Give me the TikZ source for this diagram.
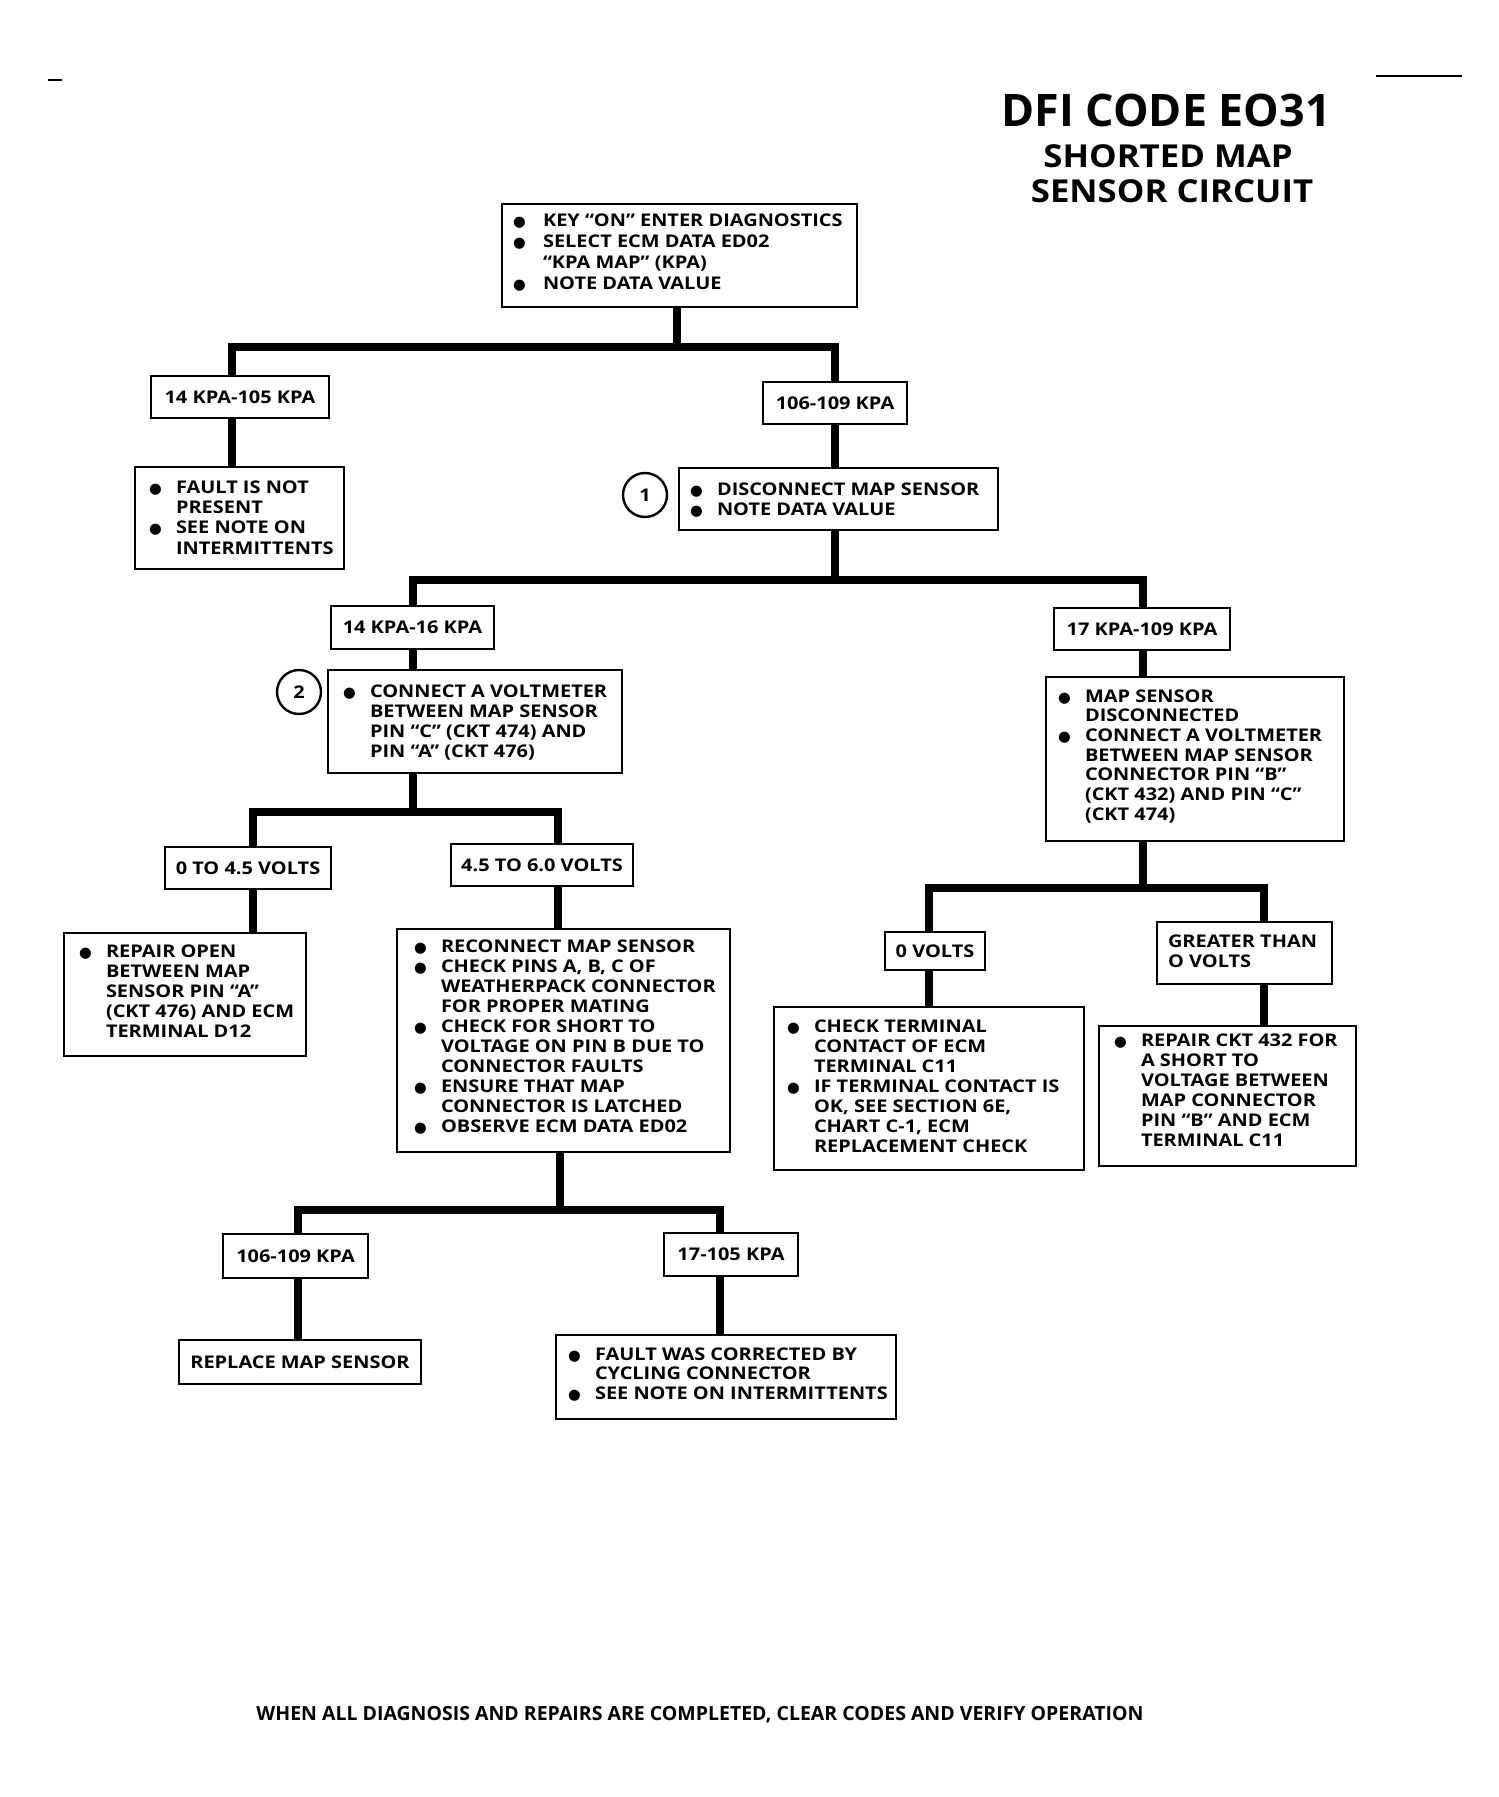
\documentclass[tikz,border=0pt]{standalone}
\usepackage{fontspec}
\usetikzlibrary{calc}
\newfontfamily\bodyf{Open Sans}[FakeStretch=1.14]
\newfontfamily\plainf{Open Sans}
\newfontfamily\subf{Open Sans}[FakeStretch=1.1]
\newfontfamily\symf{DejaVu Sans}
\newlength\bind
\setlength\bind{13.5pt}
\newcommand\bul{{\symf\fontsize{7.3pt}{7pt}\selectfont ●}}
\newcommand\bi{\makebox[\bind][l]{\bul}}
\newcommand\ci{\hspace*{\bind}}
\newcommand\blist[2][10pt]{\parbox[t]{300pt}{\fontsize{8.75pt}{#1}\selectfont\raggedright #2}}
\newcommand\mkbox[6]{%
  \node[boxst, minimum width={(#4-#2)*0.5pt}, minimum height={(#5-#3)*0.5pt}] (#1) at ({(#2+#4)/2},{(#3+#5)/2}) {#6};}
\tikzset{
  boxst/.style={draw, line width=1.4pt, inner sep=0pt, outer sep=0pt,
    font={\bodyf\bfseries\fontsize{8.75pt}{10pt}\selectfont}},
  conn/.style={line width=3.75pt, line join=miter, line cap=butt},
  txt/.style={anchor=base west, inner sep=0pt, outer sep=0pt, font={\bodyf\bfseries}},
  circ/.style={draw, circle, line width=1.2pt, minimum size=22pt, inner sep=0pt,
    font={\bodyf\bfseries\fontsize{8.75pt}{10pt}\selectfont}},
}
\begin{document}
\begin{tikzpicture}[x=0.5pt,y=-0.5pt]
\fill[white] (0,0) rectangle (1498,1797);
\useasboundingbox (0,0) rectangle (1498,1797);

% page marks
\draw[line width=0.8pt] (48,80) -- (62,80);
\draw[line width=0.8pt] (1376,76) -- (1462,76);

% title
\node[anchor=base, inner sep=0pt, font={\plainf\bfseries\fontsize{22.4pt}{26pt}\selectfont}] (title) at (1166,127) {DFI CODE EO31};
\node[anchor=base, inner sep=0pt, font={\subf\bfseries\fontsize{15.8pt}{18pt}\selectfont}] (sub1) at (1168,168) {SHORTED MAP};
\node[anchor=base, inner sep=0pt, font={\subf\bfseries\fontsize{15.8pt}{18pt}\selectfont}] (sub2) at (1172,203) {SENSOR CIRCUIT};

% boxes
\mkbox{A}{502}{204}{857}{307}{}
\mkbox{B}{151}{376}{329}{418}{14 KPA-105 KPA}
\mkbox{C}{763}{382}{907}{424}{106-109 KPA}
\mkbox{D}{135}{467}{344}{569}{}
\mkbox{E}{679}{468}{998}{530}{}
\mkbox{F}{331}{606}{494}{649}{14 KPA-16 KPA}
\mkbox{G}{1054}{608}{1230}{650}{17 KPA-109 KPA}
\mkbox{H}{328}{670}{622}{773}{}
\mkbox{I}{1046}{677}{1344}{841}{}
\mkbox{J}{165}{847}{331}{889}{0 TO 4.5 VOLTS}
\mkbox{K}{451}{844}{633}{886}{4.5 TO 6.0 VOLTS}
\mkbox{L}{64}{933}{306}{1056}{}
\mkbox{M}{397}{929}{730}{1152}{}
\mkbox{N}{885}{932}{985}{970}{0 VOLTS}
\mkbox{O}{1157}{922}{1332}{984}{}
\mkbox{P}{774}{1007}{1084}{1170}{}
\mkbox{Q}{1099}{1026}{1356}{1166}{}
\mkbox{R}{223}{1234}{368}{1278}{106-109 KPA}
\mkbox{S}{664}{1233}{798}{1276}{17-105 KPA}
\mkbox{T}{179}{1340}{421}{1384}{REPLACE MAP SENSOR}
\mkbox{U}{556}{1335}{896}{1419}{}

% box texts
\node[txt] (At) at (513,227) {\setlength\bind{15pt}\blist[10.4pt]{\bi KEY “ON” ENTER DIAGNOSTICS\\ \bi SELECT ECM DATA ED02\\ \ci “KPA MAP” (KPA)\\ \bi NOTE DATA VALUE}};
\node[txt] (Dt) at (149,493) {\blist[10.2pt]{\bi FAULT IS NOT\\ \ci PRESENT\\ \bi SEE NOTE ON\\ \ci INTERMITTENTS}};
\node[txt] (Et) at (690,495) {\blist{\bi DISCONNECT MAP SENSOR\\ \bi NOTE DATA VALUE}};
\node[txt] (Ht) at (343,697) {\blist{\bi CONNECT A VOLTMETER\\ \ci BETWEEN MAP SENSOR\\ \ci PIN “C” (CKT 474) AND\\ \ci PIN “A” (CKT 476)}};
\node[txt] (It) at (1058,702) {\blist[9.85pt]{\bi MAP SENSOR\\ \ci DISCONNECTED\\ \bi CONNECT A VOLTMETER\\ \ci BETWEEN MAP SENSOR\\ \ci CONNECTOR PIN “B”\\ \ci (CKT 432) AND PIN “C”\\ \ci (CKT 474)}};
\node[txt] (Lt) at (79,957) {\blist{\bi REPAIR OPEN\\ \ci BETWEEN MAP\\ \ci SENSOR PIN “A”\\ \ci (CKT 476) AND ECM\\ \ci TERMINAL D12}};
\node[txt] (Mt) at (414,952) {\blist[10.05pt]{\bi RECONNECT MAP SENSOR\\ \bi CHECK PINS A, B, C OF\\ \ci WEATHERPACK CONNECTOR\\ \ci FOR PROPER MATING\\ \bi CHECK FOR SHORT TO\\ \ci VOLTAGE ON PIN B DUE TO\\ \ci CONNECTOR FAULTS\\ \bi ENSURE THAT MAP\\ \ci CONNECTOR IS LATCHED\\ \bi OBSERVE ECM DATA ED02}};
\node[txt] (Ot) at (1168,947) {\blist{GREATER THAN\\ O VOLTS}};
\node[txt] (Pt) at (787,1032) {\blist{\bi CHECK TERMINAL\\ \ci CONTACT OF ECM\\ \ci TERMINAL C11\\ \bi IF TERMINAL CONTACT IS\\ \ci OK, SEE SECTION 6E,\\ \ci CHART C-1, ECM\\ \ci REPLACEMENT CHECK}};
\node[txt] (Qt) at (1114,1046) {\blist{\bi REPAIR CKT 432 FOR\\ \ci A SHORT TO\\ \ci VOLTAGE BETWEEN\\ \ci MAP CONNECTOR\\ \ci PIN “B” AND ECM\\ \ci TERMINAL C11}};
\node[txt] (Ut) at (568,1360) {\blist[9.8pt]{\bi FAULT WAS CORRECTED BY\\ \ci CYCLING CONNECTOR\\ \bi SEE NOTE ON INTERMITTENTS}};

% step numbers
\node[circ] (c1) at (645,495) {1};
\node[circ] (c2) at (299,692) {2};

% connectors
\draw[conn] (677,0 |- A.south) -- (677,347);
\draw[conn] (232,0 |- B.north) -- (232,347) -- (835,347) -- (835,0 |- C.north);
\draw[conn] (232,0 |- B.south) -- (232,0 |- D.north);
\draw[conn] (835,0 |- C.south) -- (835,0 |- E.north);
\draw[conn] (835,0 |- E.south) -- (835,580);
\draw[conn] (413,0 |- F.north) -- (413,580) -- (1143,580) -- (1143,0 |- G.north);
\draw[conn] (413,0 |- F.south) -- (413,0 |- H.north);
\draw[conn] (1143,0 |- G.south) -- (1143,0 |- I.north);
\draw[conn] (413,0 |- H.south) -- (413,812);
\draw[conn] (253,0 |- J.north) -- (253,812) -- (558,812) -- (558,0 |- K.north);
\draw[conn] (253,0 |- J.south) -- (253,0 |- L.north);
\draw[conn] (558,0 |- K.south) -- (558,0 |- M.north);
\draw[conn] (1143,0 |- I.south) -- (1143,888);
\draw[conn] (929,0 |- N.north) -- (929,888) -- (1264,888) -- (1264,0 |- O.north);
\draw[conn] (929,0 |- N.south) -- (929,0 |- P.north);
\draw[conn] (1264,0 |- O.south) -- (1264,0 |- Q.north);
\draw[conn] (560,0 |- M.south) -- (560,1210);
\draw[conn] (298,0 |- R.north) -- (298,1210) -- (720,1210) -- (720,0 |- S.north);
\draw[conn] (298,0 |- R.south) -- (298,0 |- T.north);
\draw[conn] (720,0 |- S.south) -- (720,0 |- U.north);

% footer
\node[anchor=base, inner sep=0pt, font={\plainf\bfseries\fontsize{9.75pt}{12pt}\selectfont}] (foot) at (700,1720) {WHEN ALL DIAGNOSIS AND REPAIRS ARE COMPLETED, CLEAR CODES AND VERIFY OPERATION};
\end{tikzpicture}
\end{document}
